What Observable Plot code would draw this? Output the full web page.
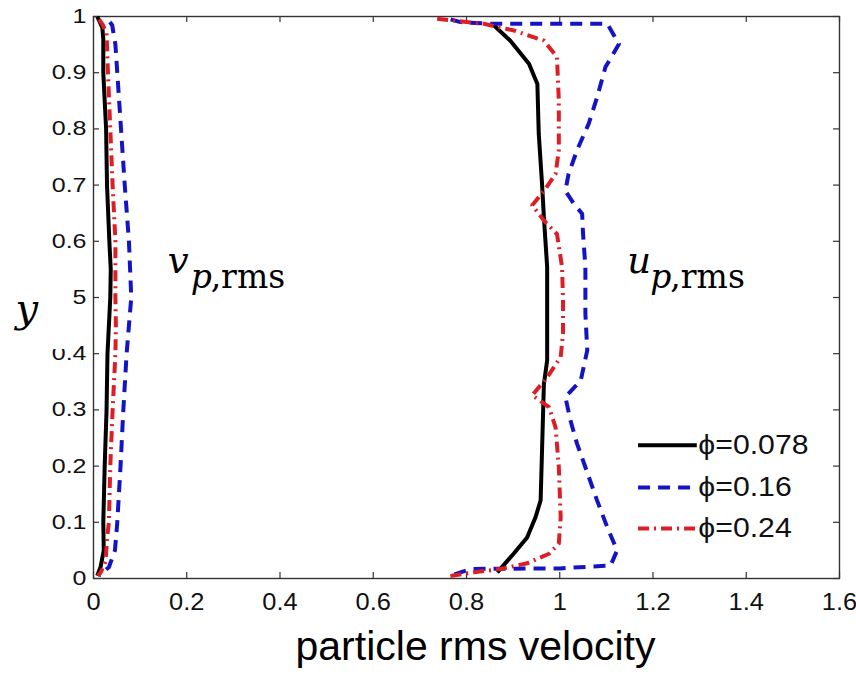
<!DOCTYPE html>
<html>
<head>
<meta charset="utf-8">
<script src="https://cdn.jsdelivr.net/npm/d3@7"></script>
<script src="https://cdn.jsdelivr.net/npm/@observablehq/plot@0.6"></script>
<style>
  html, body { margin: 0; padding: 0; background: #fff; }
  #chart { width: 856px; height: 686px; }
</style>
</head>
<body>
<div id="chart"></div>
<script>
// ---- tick labels ----
const xTicks = [0, 0.2, 0.4, 0.6, 0.8, 1, 1.2, 1.4, 1.6];
const yTicks = [0, 0.1, 0.2, 0.3, 0.4, 0.5, 0.6, 0.7, 0.8, 0.9, 1];

// ---- series names ----
const phiLabels = ["ϕ=0.078", "ϕ=0.16", "ϕ=0.24"];

// ---- v_p,rms curves: [velocity, y] ----
const v078 = [[0.008,1.0],[0.019,0.98],[0.021,0.96],[0.021,0.9],[0.027,0.8],[0.029,0.7],[0.034,0.6],[0.037,0.55],[0.036,0.5],[0.030,0.4],[0.028,0.3],[0.024,0.2],[0.021,0.1],[0.022,0.05],[0.015,0.02],[0.008,0.005]];
const v016 = [[0.035,0.99],[0.040,0.985],[0.047,0.95],[0.051,0.9],[0.059,0.8],[0.067,0.7],[0.076,0.6],[0.081,0.5],[0.076,0.45],[0.071,0.4],[0.064,0.3],[0.058,0.2],[0.051,0.1],[0.046,0.05],[0.033,0.02],[0.011,0.005]];
const v024 = [[0.012,0.995],[0.020,0.985],[0.028,0.97],[0.031,0.9],[0.036,0.8],[0.041,0.7],[0.047,0.6],[0.047,0.5],[0.048,0.45],[0.047,0.4],[0.041,0.3],[0.036,0.2],[0.033,0.1],[0.029,0.07],[0.026,0.03],[0.015,0.01],[0.009,0.005]];

// ---- u_p,rms curves: [velocity, y] ----
const u078 = [[0.855,0.987],[0.894,0.957],[0.934,0.916],[0.952,0.88],[0.955,0.791],[0.962,0.702],[0.966,0.643],[0.973,0.554],[0.973,0.388],[0.966,0.346],[0.959,0.139],[0.948,0.109],[0.930,0.073],[0.901,0.044],[0.866,0.011]];
const u016 = [[0.766,0.995],[0.787,0.99],[0.85,0.987],[1.0,0.987],[1.102,0.987],[1.127,0.951],[1.098,0.91],[1.08,0.856],[1.062,0.809],[1.037,0.762],[1.019,0.72],[1.012,0.69],[1.03,0.667],[1.048,0.649],[1.05,0.613],[1.055,0.554],[1.055,0.471],[1.059,0.406],[1.045,0.352],[1.012,0.323],[1.023,0.281],[1.037,0.24],[1.055,0.198],[1.08,0.139],[1.102,0.091],[1.123,0.05],[1.109,0.023],[1.0,0.018],[0.809,0.017],[0.766,0.005]];
const u024 = [[0.737,0.996],[0.837,0.987],[0.902,0.975],[0.966,0.957],[0.994,0.928],[0.998,0.851],[0.998,0.762],[0.991,0.72],[0.969,0.693],[0.941,0.664],[0.966,0.637],[0.994,0.613],[1.005,0.554],[1.007,0.495],[1.007,0.436],[1.002,0.394],[0.973,0.358],[0.941,0.326],[0.977,0.305],[0.991,0.269],[0.998,0.198],[1.002,0.109],[0.998,0.062],[0.977,0.044],[0.93,0.027],[0.873,0.017],[0.816,0.011],[0.762,0.004]];

// ---- text ----
const xTitle = "particle rms velocity";
const yTitle = "y";
const mathLabels = [
  {main: "v", sub: "p", rest: ",rms", x: 0.159, y: 0.543},
  {main: "u", sub: "p", rest: ",rms", x: 1.145, y: 0.543}
];

// ---- styles / layout ----
const colors = ["#000000", "#1414c4", "#dc1f26"];
const dashes = [null, "12,8", "11,5,2,5"];
const W = 856, H = 686;
const mL = 93, mR = 17, mT = 16, mB = 108;
const frameW = W - mL - mR, frameH = H - mT - mB;
const legendX1 = 1.169, legendX2 = 1.295;
const legendYs = [0.237, 0.162, 0.089];

const groups = [[v078, u078], [v016, u016], [v024, u024]];
const lineMarks = groups.map((pair, i) => {
  const rows = [];
  pair.forEach((curve, c) => curve.forEach(([x, y]) => rows.push({x, y, curve: c})));
  return Plot.line(rows, {
    x: "x", y: "y", z: "curve", stroke: colors[i], strokeWidth: 4,
    strokeDasharray: dashes[i], strokeLinecap: "butt", strokeLinejoin: "round", curve: "linear"
  });
});

const legendMarks = phiLabels.flatMap((label, i) => [
  Plot.ruleY([{y: legendYs[i]}], {y: "y", x1: legendX1, x2: legendX2, stroke: colors[i], strokeWidth: 4, strokeDasharray: dashes[i]}),
  Plot.text([{y: legendYs[i], label}], {x: legendX2, y: "y", text: "label", textAnchor: "start", dx: 1, fontSize: 27, fill: "#111", className: "legendtext"})
]);

const plot = Plot.plot({
  width: W, height: H,
  marginLeft: mL, marginRight: mR, marginTop: mT, marginBottom: mB,
  x: {domain: [0, 1.6]},
  y: {domain: [0, 1]},
  style: {fontFamily: "'Liberation Sans', Arial, sans-serif", background: "#fff", color: "#111"},
  marks: [
    Plot.axisX({ticks: xTicks, tickSize: 0, tickPadding: 14, fontSize: 24, tickFormat: d => String(d), label: null}),
    Plot.axisY({ticks: yTicks, tickSize: 0, tickPadding: 7, fontSize: 20, tickFormat: d => String(d), label: null}),
    Plot.ruleX(xTicks, {x: d => d, insetTop: frameH - 6, stroke: "#333", strokeWidth: 1.2}),
    Plot.ruleX(xTicks, {x: d => d, insetBottom: frameH - 6, stroke: "#333", strokeWidth: 1.2}),
    Plot.ruleY(yTicks, {y: d => d, insetRight: frameW - 6, stroke: "#333", strokeWidth: 1.2}),
    Plot.ruleY(yTicks, {y: d => d, insetLeft: frameW - 6, stroke: "#333", strokeWidth: 1.2}),
    Plot.frame({stroke: "#333", strokeWidth: 1.4}),
    ...lineMarks,
    ...legendMarks,
    Plot.text(mathLabels, {x: "x", y: "y", text: "main", textAnchor: "start", dy: -12, fontSize: 37, fontFamily: "'DejaVu Serif', serif", fontStyle: "italic", fill: "#000"}),
    Plot.text(mathLabels, {x: "x", y: "y", text: "sub", textAnchor: "start", dx: 23, dy: 4.5, fontSize: 33, fontFamily: "'DejaVu Serif', serif", fontStyle: "italic", fill: "#000"}),
    Plot.text(mathLabels, {x: "x", y: "y", text: "rest", textAnchor: "start", dx: 43, dy: 4.5, fontSize: 33, fontFamily: "'DejaVu Serif', serif", fill: "#000"}),
    Plot.text([xTitle], {frameAnchor: "bottom", text: d => d, dx: 9, dy: 81, fontSize: 41, fill: "#000"}),
    Plot.text([yTitle], {frameAnchor: "left", text: d => d, textAnchor: "start", dx: -78, dy: 12, fontSize: 40, fontFamily: "'DejaVu Serif', serif", fontStyle: "italic", fill: "#000"})
  ]
});

document.getElementById("chart").appendChild(plot);

// horizontal stretch of tick and legend labels to match the reference's wide glyphs
d3.select(plot).selectAll("text").each(function() {
  const p = this.parentNode;
  const lab = p && p.getAttribute("aria-label");
  const t = this.getAttribute("transform") || "";
  if (lab === "y-axis tick label") this.setAttribute("transform", t + " scale(1.25,1)");
  else if (lab === "x-axis tick label") this.setAttribute("transform", t + " scale(1.06,1)");
  else if (p && p.classList && p.classList.contains("legendtext")) this.setAttribute("transform", t + " scale(1.12,1)");
});
// white patch behind the y label (hides part of the tick labels as in the reference)
const yText = Array.from(plot.querySelectorAll("text")).find(t => t.textContent === yTitle && t.parentNode.getAttribute("aria-label") !== "y-axis tick label");
if (yText) {
  const g = yText.parentNode;
  const r = document.createElementNS("http://www.w3.org/2000/svg", "rect");
  r.setAttribute("x", 0); r.setAttribute("y", 272);
  r.setAttribute("width", 71); r.setAttribute("height", 77);
  r.setAttribute("fill", "#fff");
  g.parentNode.insertBefore(r, g);
}
</script>
</body>
</html>
